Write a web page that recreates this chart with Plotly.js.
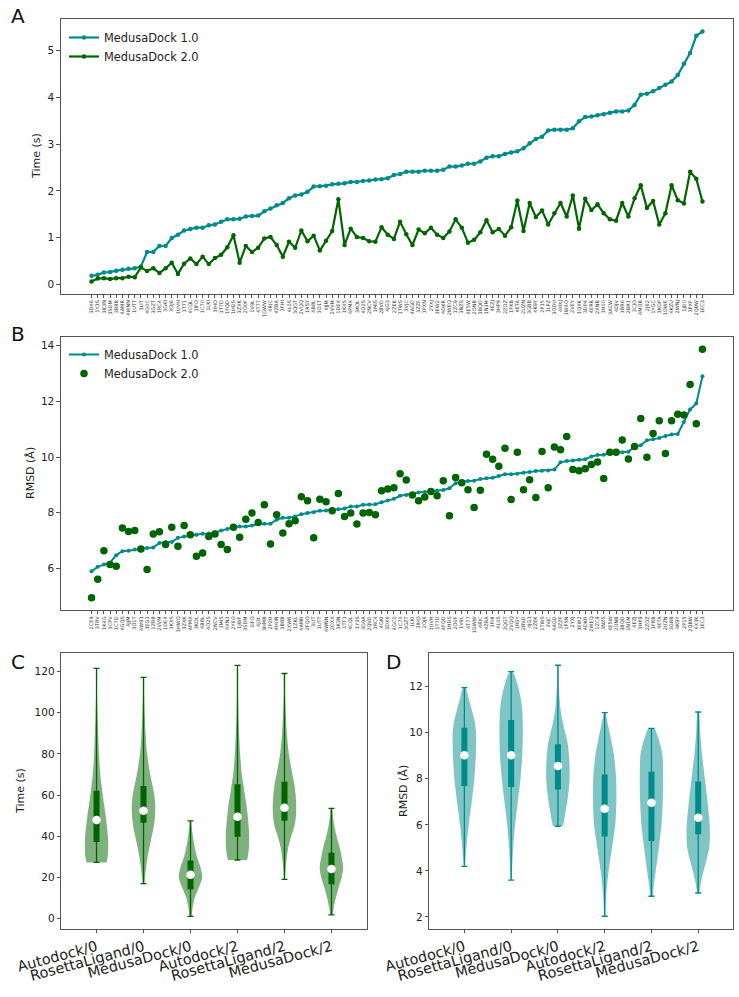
<!DOCTYPE html>
<html>
<head>
<meta charset="utf-8">
<script src="https://cdn.plot.ly/plotly-3.0.1.min.js"></script>
<style>html,body{margin:0;padding:0;background:#fff;}#chart{width:739px;height:997px;}</style>
</head>
<body>
<div id="chart"></div>
<script>
// ---------------- Panel A / B data ----------------
const labelsA = ["3DX6","1Y3S","3K3N","3SDM","3B8B","4AMR","4WNN","1UTT","3LIT","4G0C","3GZT","1RC4","3GKI","3OJ6","1UVH","1TT1","4CQL","1IFO","1C70","1LKI","3IHO","1T7D","1FQD","1HDS","3ZXK","2O0F","1V9L","4T77","1GWW","4RIC","4ZBA","3FHI","4L0S","3QGT","2VQQ","1RSY","4B8L","3O1T","4JJM","2VVM","1DEX","1KXS","4PMX","3KOL","4O2S","2NCV","1MIS","2BVD","4JG3","2ZEK","1TWS","3VJC","4AGD","3ZZF","1PXN","2YXJ","3EW2","4DKR","2WEQ","1ZC9","3NZS","4E5W","2ONB","3BQD","1N1M","4EZJ","3HP9","2ZOZ","1FKB","4ETA","2UZN","3GBB","4K9Y","2P15","1LPZ","3ODU","4HXJ","1W4O","2VEY","1QXK","3DP4","4ERK","2XNB","1H00","3ACW","4DJV","1BR6","2BR1","3CJO","4MOB","2J62","1YGC","3KGP","1OWE","4KZU","2WNJ","1JD0","3PXF","2QBW","1EC3"];
const timeMD1 = [0.18,0.20,0.25,0.26,0.29,0.31,0.33,0.34,0.38,0.69,0.69,0.82,0.82,0.99,1.06,1.15,1.18,1.21,1.21,1.26,1.28,1.34,1.39,1.39,1.40,1.45,1.46,1.47,1.56,1.62,1.69,1.74,1.84,1.90,1.92,1.98,2.09,2.10,2.11,2.14,2.15,2.16,2.19,2.19,2.21,2.22,2.24,2.25,2.27,
  2.34,2.36,2.41,2.41,2.41,2.43,2.43,2.43,2.45,2.52,2.52,2.54,2.58,2.58,2.63,2.71,2.74,2.74,2.79,2.82,2.85,2.91,3.02,3.11,3.16,3.29,3.31,3.31,3.31,3.34,3.49,3.58,3.59,3.62,3.64,3.67,3.70,3.70,3.72,3.84,4.06,4.08,4.13,4.20,4.27,4.34,4.48,4.72,4.95,5.32,5.41];
const timeMD2 = [0.06,0.12,0.13,0.11,0.13,0.13,0.16,0.15,0.36,0.28,0.34,0.24,0.34,0.46,0.22,0.44,0.55,0.43,0.59,0.43,0.56,0.63,0.79,1.05,0.46,0.82,0.69,0.78,0.98,1.01,0.84,0.59,0.91,0.78,1.15,0.92,1.04,0.72,0.93,1.14,1.82,0.84,1.19,1.01,0.99,0.92,0.91,1.22,1.06,
  0.97,1.34,1.07,0.84,1.17,1.09,1.21,1.06,0.99,1.13,1.39,1.21,0.89,0.95,1.11,1.37,1.11,1.18,1.04,1.22,1.79,1.14,1.74,1.44,1.58,1.28,1.52,1.74,1.45,1.90,1.19,1.83,1.59,1.71,1.52,1.39,1.36,1.74,1.45,1.84,2.12,1.63,1.78,1.28,1.52,2.12,1.80,1.73,2.41,2.26,1.77];

const labelsB = ["2CE9","3T8V","1K4G","3CPV","1C7D","4GQS","4JJM","3O1T","4W91","3EG1","1ZR8","2VVM","1DEX","1KXS","1HWO","3ZXK","4PMX","3KOL","4B8L","4O2S","2NCV","1MIS","4XN1","2Y6O","1JWF","3SDM","1IFO","4J3L","3HMB","2P2H","4H0N","3B8B","2XWR","1ZKL","4AMR","2FQO","3LIT","1UTT","4WNN","2DXX","3K3N","1TT1","4CQL","1Y3S","3G9A","2QVD","1RC4","4GKI","3DX6","4GC0","1C70","3GZT","1LKI","3IHO","2OJ6","1UVH","1T7D","4FQD","1HDS","2O0F","1V9L","4T77","1GWW","4RIC","4ZBA","3FHI","4L0S","3QGT","2VQQ","1RSY","2BVD","4JG3","2ZEK","1TWS","3VJC","4AGD","3ZZF","1PXN","2YXJ","3EW2","4DKR","2WEQ","1ZC9","3NZS","4E5W","2ONB","3BQD","1N1M","4EZJ","3HP9","2ZOZ","1FKB","4ETA","2UZN","3GBB","4K9Y","2P15","2QBW","4X3K","1EC3"];
const rmsdMD1 = [5.90,6.06,6.14,6.21,6.48,6.62,6.64,6.68,6.71,6.74,6.75,6.92,6.95,6.95,7.10,7.15,7.18,7.21,7.25,7.26,7.29,7.36,7.42,7.48,7.51,7.51,7.54,7.60,7.61,7.61,7.75,7.82,7.82,7.87,7.95,7.99,8.02,8.07,8.08,8.12,8.13,8.15,8.23,8.23,8.29,8.30,8.31,8.38,8.44,
  8.50,8.61,8.64,8.68,8.73,8.75,8.79,8.80,8.82,8.88,9.06,9.12,9.14,9.15,9.21,9.24,9.26,9.32,9.38,9.38,9.40,9.44,9.46,9.50,9.51,9.52,9.55,9.81,9.86,9.88,9.90,9.92,10.02,10.07,10.08,10.13,10.17,10.17,10.19,10.38,10.42,10.60,10.64,10.68,10.76,10.81,10.83,11.26,11.71,11.92,12.90];
const rmsdMD2 = [4.95,5.61,6.64,6.14,6.08,7.45,7.33,7.36,6.70,5.96,7.24,7.32,6.86,7.48,6.80,7.54,7.21,6.44,6.56,7.15,7.24,6.86,6.68,7.48,7.12,7.77,7.99,7.65,8.29,6.88,7.93,7.27,7.61,7.71,8.58,8.43,7.10,8.49,8.40,8.07,8.69,7.87,7.99,7.60,7.99,8.01,7.93,8.79,8.85,
  8.90,9.40,9.18,8.64,8.43,8.57,8.76,8.61,9.15,7.89,9.27,9.08,8.83,8.19,8.81,10.10,9.92,9.67,10.32,8.48,10.17,8.83,9.19,8.55,10.20,8.90,10.36,10.26,10.74,9.55,9.51,9.58,9.73,9.82,9.23,10.17,10.17,10.61,9.93,10.38,11.38,9.99,10.85,11.30,10.13,11.30,11.54,11.51,12.60,11.20,13.87];

// ---------------- Panel C / D data ----------------
const methods = ["Autodock/0","RosettaLigand/0","MedusaDock/0","Autodock/2","RosettaLigand/2","MedusaDock/2"];

const timeMin    = [27.3, 17.0, 1.1, 28.5, 19.1, 1.9];
const timeQ1     = [37.2, 46.6, 14.2, 39.8, 47.5, 16.7];
const timeMedian = [47.9, 52.4, 21.3, 49.5, 53.9, 24.1];
const timeQ3     = [62.1, 64.4, 28.3, 65.2, 66.5, 32.0];
const timeMax    = [121.5, 117.1, 47.5, 122.9, 119.0, 53.5];
const timeLevels = [
  [27.3,30,35,40,45,50,55,60,65,70,80,90,100,110,121.5],
  [17,20,25,30,35,40,45,50,55,60,65,70,80,90,100,110,117.1],
  [1.1,5,10,15,20,25,30,35,40,45,47.5],
  [28.5,30,35,40,45,50,55,60,65,70,80,90,100,110,122.9],
  [19.1,25,30,35,40,45,50,55,60,65,70,80,90,100,110,119],
  [1.9,5,10,15,20,25,30,35,40,45,50,53.5]
];
const timeDensity = [
  [0.85,0.95,1.0,0.97,0.88,0.78,0.65,0.53,0.42,0.32,0.2,0.14,0.08,0.04,0.02],
  [0.08,0.12,0.22,0.35,0.52,0.7,0.88,0.98,1.0,0.92,0.75,0.57,0.3,0.17,0.1,0.05,0.03],
  [0.1,0.17,0.35,0.7,1.0,0.85,0.55,0.35,0.2,0.1,0.05],
  [0.8,0.88,0.98,1.0,0.95,0.87,0.77,0.63,0.5,0.37,0.22,0.14,0.08,0.05,0.02],
  [0.05,0.11,0.2,0.34,0.57,0.85,0.98,1.0,0.95,0.85,0.68,0.37,0.2,0.11,0.05,0.03],
  [0.1,0.18,0.37,0.6,0.87,1.0,0.87,0.68,0.44,0.25,0.12,0.05]
];

const rmsdMin    = [4.2, 3.6, 5.94, 2.03, 2.9, 3.04];
const rmsdQ1     = [7.69, 7.64, 7.54, 5.49, 5.3, 5.59];
const rmsdMedian = [9.02, 9.02, 8.56, 6.7, 6.96, 6.31];
const rmsdQ3     = [10.22, 10.55, 9.5, 8.19, 8.31, 7.88];
const rmsdMax    = [11.96, 12.65, 12.93, 10.87, 10.19, 10.9];
const rmsdLevels = [
  [4.2,5,6,7,8,9,10,10.5,11,11.5,11.96],
  [3.6,4,5,6,7,8,9,10,11,11.5,12,12.5,12.65],
  [5.94,6,6.5,7,7.5,8,8.5,9,9.5,10,10.5,11,12,12.93],
  [2.03,3,4,5,6,7,8,9,10,10.5,10.87],
  [2.9,3.5,4,5,6,7,8,9,9.5,10,10.19],
  [3.04,3.5,4,4.5,5,5.5,6,7,8,9,10,10.9]
];
const rmsdDensity = [
  [0.05,0.17,0.37,0.63,0.85,0.98,1.0,0.88,0.63,0.37,0.1],
  [0.04,0.08,0.17,0.34,0.57,0.8,0.95,1.0,0.95,0.82,0.6,0.29,0.1],
  [0.4,0.46,0.63,0.8,0.92,1.0,1.0,0.95,0.85,0.63,0.4,0.23,0.08,0.03],
  [0.05,0.14,0.34,0.63,0.91,1.0,0.98,0.8,0.43,0.22,0.05],
  [0.1,0.23,0.37,0.63,0.86,0.97,1.0,0.95,0.75,0.43,0.25],
  [0.1,0.23,0.46,0.72,0.94,1.0,0.98,0.8,0.57,0.34,0.17,0.05]
];

// ---------------- build ----------------
const TEAL = '#008B8B', GREEN = '#006400';
const W = 739, H = 997;
const FONT = 'DejaVu Sans, Liberation Sans, sans-serif';
const idxA = labelsA.map((_, i) => i);
const idxB = labelsB.map((_, i) => i);
const pos = methods.map((_, i) => i + 1);

const traces = [];
traces.push({x: idxA, y: timeMD1, type: 'scatter', mode: 'lines+markers', name: 'MedusaDock 1.0',
  line: {color: TEAL, width: 2.2}, marker: {color: TEAL, size: 4.5}, xaxis: 'x', yaxis: 'y', legend: 'legend'});
traces.push({x: idxA, y: timeMD2, type: 'scatter', mode: 'lines+markers', name: 'MedusaDock 2.0',
  line: {color: GREEN, width: 2.2}, marker: {color: GREEN, size: 4.5}, xaxis: 'x', yaxis: 'y', legend: 'legend'});
traces.push({x: idxB, y: rmsdMD1, type: 'scatter', mode: 'lines+markers', name: 'MedusaDock 1.0',
  line: {color: TEAL, width: 2}, marker: {color: TEAL, size: 4}, xaxis: 'x2', yaxis: 'y2', legend: 'legend2'});
traces.push({x: idxB, y: rmsdMD2, type: 'scatter', mode: 'markers', name: 'MedusaDock 2.0',
  marker: {color: GREEN, size: 7.5}, xaxis: 'x2', yaxis: 'y2', legend: 'legend2'});

function addViolins(levels, dens, mins, q1, med, q3, maxs, fill, col, xa, ya) {
  levels.forEach((lv, i) => {
    const p = pos[i];
    const d = dens[i];
    const xs = lv.map((v, k) => p + 0.25 * d[k]).concat(lv.slice().reverse().map((v, k) => p - 0.25 * d[d.length - 1 - k]));
    const ys = lv.concat(lv.slice().reverse());
    traces.push({x: xs, y: ys, type: 'scatter', mode: 'lines', fill: 'toself', fillcolor: fill,
      line: {width: 0, color: fill, shape: 'spline', smoothing: 0.7}, showlegend: false, hoverinfo: 'skip', xaxis: xa, yaxis: ya});
  });
  traces.push({x: pos, y: med, type: 'scatter', mode: 'markers', marker: {size: 1, color: 'rgba(0,0,0,0)'},
    error_y: {type: 'data', symmetric: false, array: maxs.map((v, i) => v - med[i]), arrayminus: med.map((v, i) => v - mins[i]),
      width: 3, thickness: 1.3, color: col}, showlegend: false, xaxis: xa, yaxis: ya});
  traces.push({x: pos, y: med, type: 'scatter', mode: 'markers', marker: {size: 1, color: 'rgba(0,0,0,0)'},
    error_y: {type: 'data', symmetric: false, array: q3.map((v, i) => v - med[i]), arrayminus: med.map((v, i) => v - q1[i]),
      width: 0, thickness: 6, color: col}, showlegend: false, xaxis: xa, yaxis: ya});
  traces.push({x: pos, y: med, type: 'scatter', mode: 'markers', marker: {size: 8.5, color: '#ffffff'},
    showlegend: false, xaxis: xa, yaxis: ya});
}
addViolins(timeLevels, timeDensity, timeMin, timeQ1, timeMedian, timeQ3, timeMax, 'rgba(0,100,0,0.5)', GREEN, 'x3', 'y3');
addViolins(rmsdLevels, rmsdDensity, rmsdMin, rmsdQ1, rmsdMedian, rmsdQ3, rmsdMax, 'rgba(0,139,139,0.5)', TEAL, 'x4', 'y4');

const axBase = {showline: true, mirror: true, linecolor: '#555', linewidth: 1.1, ticks: 'outside', ticklen: 3.5,
  tickcolor: '#555', showgrid: false, zeroline: false, tickfont: {family: FONT, size: 10.5, color: '#222'}, automargin: false};

const layout = {
  width: W, height: H, margin: {l: 0, r: 0, t: 0, b: 0}, paper_bgcolor: '#fff', plot_bgcolor: '#fff',
  font: {family: FONT, color: '#222'}, hovermode: false,
  xaxis: Object.assign({}, axBase, {domain: [61/W, 733/W], anchor: 'y', range: [-4.95, 103.95],
    tickmode: 'array', tickvals: idxA, ticktext: labelsA, tickangle: -90, tickfont: {family: FONT, size: 5, color: '#333'}, ticklen: 3}),
  yaxis: Object.assign({}, axBase, {domain: [1-294/H, 1-19/H], anchor: 'x', range: [-0.21, 5.68], tickvals: [0,1,2,3,4,5]}),
  xaxis2: Object.assign({}, axBase, {domain: [61/W, 733/W], anchor: 'y2', range: [-4.95, 103.95],
    tickmode: 'array', tickvals: idxB, ticktext: labelsB, tickangle: -90, tickfont: {family: FONT, size: 5, color: '#333'}, ticklen: 3}),
  yaxis2: Object.assign({}, axBase, {domain: [1-610.3/H, 1-336.7/H], anchor: 'x2', range: [4.5, 14.32], tickvals: [6,8,10,12,14]}),
  xaxis3: Object.assign({}, axBase, {domain: [61.3/W, 366.7/W], anchor: 'y3', range: [0.25, 6.75],
    tickmode: 'array', tickvals: pos, ticktext: methods, tickangle: -15, tickfont: {family: FONT, size: 14.5, color: '#222'}}),
  yaxis3: Object.assign({}, axBase, {domain: [1-928.7/H, 1-653.3/H], anchor: 'x3', range: [-4.85, 128.8], tickvals: [0,20,40,60,80,100,120]}),
  xaxis4: Object.assign({}, axBase, {domain: [429.3/W, 733.3/W], anchor: 'y4', range: [0.25, 6.75],
    tickmode: 'array', tickvals: pos, ticktext: methods, tickangle: -15, tickfont: {family: FONT, size: 14.5, color: '#222'}}),
  yaxis4: Object.assign({}, axBase, {domain: [1-928.7/H, 1-653.3/H], anchor: 'x4', range: [1.49, 13.45], tickvals: [2,4,6,8,10,12]}),
  legend: {x: 64/W, y: 1-23/H, xanchor: 'left', yanchor: 'top', bgcolor: 'rgba(255,255,255,0)', borderwidth: 0,
    font: {family: FONT, size: 11.4, color: '#222'}, tracegroupgap: 0},
  legend2: {x: 64/W, y: 1-340/H, xanchor: 'left', yanchor: 'top', bgcolor: 'rgba(255,255,255,0)', borderwidth: 0,
    font: {family: FONT, size: 11.4, color: '#222'}, tracegroupgap: 0},
  annotations: [
    {text: 'A', x: 9/W, y: 1-16/H, xref: 'paper', yref: 'paper', xanchor: 'left', yanchor: 'middle', showarrow: false, font: {family: FONT, size: 20, color: '#111'}},
    {text: 'B', x: 9/W, y: 1-334/H, xref: 'paper', yref: 'paper', xanchor: 'left', yanchor: 'middle', showarrow: false, font: {family: FONT, size: 20, color: '#111'}},
    {text: 'C', x: 9/W, y: 1-662/H, xref: 'paper', yref: 'paper', xanchor: 'left', yanchor: 'middle', showarrow: false, font: {family: FONT, size: 20, color: '#111'}},
    {text: 'D', x: 384/W, y: 1-662/H, xref: 'paper', yref: 'paper', xanchor: 'left', yanchor: 'middle', showarrow: false, font: {family: FONT, size: 20, color: '#111'}},
    {text: 'Time (s)', x: 36/W, y: 1-156/H, xref: 'paper', yref: 'paper', xanchor: 'center', yanchor: 'middle', textangle: -90, showarrow: false, font: {family: FONT, size: 11, color: '#222'}},
    {text: 'RMSD (Å)', x: 30/W, y: 1-473/H, xref: 'paper', yref: 'paper', xanchor: 'center', yanchor: 'middle', textangle: -90, showarrow: false, font: {family: FONT, size: 11, color: '#222'}},
    {text: 'Time (s)', x: 20/W, y: 1-791/H, xref: 'paper', yref: 'paper', xanchor: 'center', yanchor: 'middle', textangle: -90, showarrow: false, font: {family: FONT, size: 11, color: '#222'}},
    {text: 'RMSD (Å)', x: 403/W, y: 1-791/H, xref: 'paper', yref: 'paper', xanchor: 'center', yanchor: 'middle', textangle: -90, showarrow: false, font: {family: FONT, size: 11, color: '#222'}}
  ]
};

Plotly.newPlot('chart', traces, layout, {displayModeBar: false, staticPlot: true});
</script>
</body>
</html>
